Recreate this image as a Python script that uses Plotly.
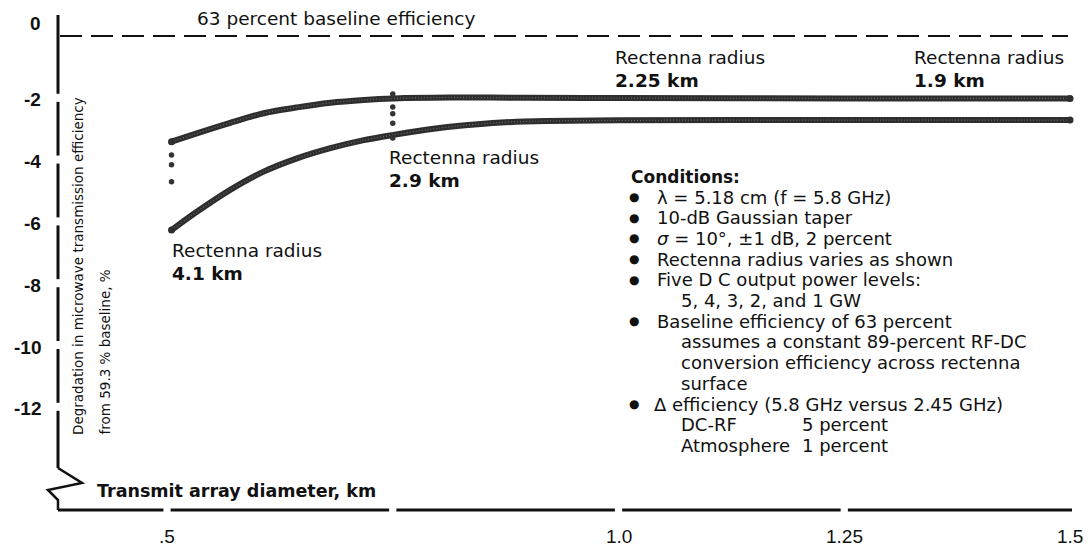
import plotly.graph_objects as go

# ---------------- data ----------------
upper_d = [0.505, 0.533, 0.570, 0.607, 0.644, 0.681, 0.718, 0.751, 0.813, 0.9, 1.0, 1.25, 1.5]
upper_v = [-3.42, -3.15, -2.81, -2.50, -2.31, -2.16, -2.07, -2.02, -1.99, -2.0, -2.01, -2.02, -2.02]

lower_d = [0.505, 0.533, 0.570, 0.607, 0.644, 0.681, 0.718, 0.751, 0.791, 0.83, 0.87, 0.92, 1.0, 1.25, 1.5]
lower_v = [-6.28, -5.69, -4.98, -4.39, -3.96, -3.63, -3.37, -3.20, -3.02, -2.89, -2.80, -2.75, -2.73, -2.72, -2.72]

dots_a_d = [0.505, 0.505, 0.505]
dots_a_v = [-3.85, -4.17, -4.72]
dots_b_d = [0.75, 0.75, 0.75, 0.75, 0.75]
dots_b_v = [-1.88, -2.30, -2.52, -2.82, -3.30]

baseline_v = 0.0
xtick_vals = [0.5, 1.0, 1.25, 1.5]
xtick_text = [".5", "1.0", "1.25", "1.5"]
ytick_vals = [0, -2, -4, -6, -8, -10, -12]
ytick_text = ["0", "-2", "-4", "-6", "-8", "-10", "-12"]

conditions = [
    ("bullet", "\u03bb = 5.18 cm (f = 5.8 GHz)"),
    ("bullet", "10-dB Gaussian taper"),
    ("bullet", "<i>\u03c3</i> = 10\u00b0, \u00b11 dB, 2 percent"),
    ("bullet", "Rectenna radius varies as shown"),
    ("bullet", "Five D C output power levels:"),
    ("indent", "5, 4, 3, 2, and 1 GW"),
    ("bullet", "Baseline efficiency of 63 percent"),
    ("indent", "assumes a constant 89-percent RF-DC"),
    ("indent", "conversion efficiency across rectenna"),
    ("indent", "surface"),
    ("bullet", "\u0394 efficiency (5.8 GHz versus 2.45 GHz)"),
    ("indent", "DC-RF"),
    ("indent", "Atmosphere"),
]
delta_values = ["5 percent", "1 percent"]

# ---------------- layout helpers (pixel -> axis units) ----------------
W, H = 1091, 549
X0_PX, X_PER_KM = 167.0, 903.0     # .5 km at 167 px
Y0_PX, Y_PER_UNIT = 36.0, 30.9     # 0 % at 36 px


def px2x(px):
    return 0.5 + (px - X0_PX) / X_PER_KM


def py2y(py):
    return -(py - Y0_PX) / Y_PER_UNIT


FONT = "DejaVu Sans, Verdana, sans-serif"
TICKFONT = "Liberation Sans, Arial, sans-serif"
INK = "#111111"
TXT = 18.5
CTXT = 18

fig = go.Figure()

band_col = "#2e2e2e"
for d, v in ((upper_d, upper_v), (lower_d, lower_v)):
    fig.add_trace(go.Scatter(x=d, y=v, mode="lines",
                             line=dict(color=band_col, width=6, shape="spline", smoothing=0.8),
                             hoverinfo="skip", showlegend=False))
    fig.add_trace(go.Scatter(x=d, y=v, mode="lines",
                             line=dict(color="#6a6a6a", width=1.2, shape="spline", smoothing=0.8, dash="1px,2px"),
                             hoverinfo="skip", showlegend=False))
    fig.add_trace(go.Scatter(x=[d[0], d[-1]], y=[v[0], v[-1]], mode="markers",
                             marker=dict(color=band_col, size=7),
                             hoverinfo="skip", showlegend=False))

for d, v in ((dots_a_d, dots_a_v), (dots_b_d, dots_b_v)):
    fig.add_trace(go.Scatter(x=d, y=v, mode="markers",
                             marker=dict(color="#333333", size=5.5),
                             hoverinfo="skip", showlegend=False))

shapes = []
# baseline dashed line
shapes.append(dict(type="line", x0=px2x(60), x1=px2x(1068), y0=baseline_v, y1=baseline_v,
                   line=dict(color=INK, width=2, dash="22px,9px")))

# broken y axis line with gaps at labelled ticks
ax_x = px2x(58)
gap = 0.13
top = py2y(15)
bottom_v = py2y(468)
stops = [t for t in ytick_vals if t < 0]
seg_top = top
for t in stops:
    shapes.append(dict(type="line", x0=ax_x, x1=ax_x, y0=seg_top, y1=t + gap,
                       line=dict(color=INK, width=3)))
    seg_top = t - gap
shapes.append(dict(type="line", x0=ax_x, x1=ax_x, y0=seg_top, y1=bottom_v,
                   line=dict(color=INK, width=3)))

# zig-zag axis break
zz = [(58, 468), (82, 483), (48, 490), (58, 500), (58, 510)]
path = "M " + " L ".join(f"{px2x(a)},{py2y(b)}" for a, b in zz)
shapes.append(dict(type="path", path=path, line=dict(color=INK, width=2.5)))

# broken x axis line with gaps at ticks
xa_y = py2y(510)
xgaps = [0.5, 0.75, 1.0, 1.25]
xg = 0.004
seg_left = px2x(58)
for g in xgaps:
    shapes.append(dict(type="line", x0=seg_left, x1=g - xg, y0=xa_y, y1=xa_y,
                       line=dict(color=INK, width=3)))
    seg_left = g + xg
shapes.append(dict(type="line", x0=seg_left, x1=px2x(1072), y0=xa_y, y1=xa_y,
                   line=dict(color=INK, width=3)))

ann = []


def text(px, py, s, size=17, bold=False, xanchor="left", yanchor="middle", angle=0, family=FONT):
    if bold:
        s = f"<b>{s}</b>"
    ann.append(dict(x=px2x(px), y=py2y(py), text=s, showarrow=False, xanchor=xanchor,
                    yanchor=yanchor, textangle=angle,
                    font=dict(family=family, size=size, color=INK)))


# y tick labels
for v, t in zip(ytick_vals, ytick_text):
    ann.append(dict(x=px2x(43), y=v, text=f"<b>{t}</b>", showarrow=False, xanchor="right",
                    yanchor="middle", yshift=13 if v == 0 else -2,
                    font=dict(family=TICKFONT, size=19, color=INK)))
# x tick labels
for v, t in zip(xtick_vals, xtick_text):
    ann.append(dict(x=v, y=py2y(536), text=t, showarrow=False, xanchor="center",
                    yanchor="middle", font=dict(family=TICKFONT, size=19, color=INK)))

text(195, 18, "63 percent baseline efficiency", size=TXT)
text(95, 491, "Transmit array diameter, km", size=17.5, bold=True)

text(613, 57, "Rectenna radius", size=TXT)
text(613, 80, "2.25 km", size=TXT, bold=True)
text(912, 57, "Rectenna radius", size=TXT)
text(912, 80, "1.9 km", size=TXT, bold=True)
text(387, 157, "Rectenna radius", size=TXT)
text(387, 180, "2.9 km", size=TXT, bold=True)
text(170, 250, "Rectenna radius", size=TXT)
text(170, 273, "4.1 km", size=TXT, bold=True)

# axis title (rotated, two lines, bottom aligned)
text(78, 437, "Degradation in microwave transmission efficiency", size=13.5,
     xanchor="center", yanchor="bottom", angle=-90)
text(104, 437, "from 59.3 % baseline, %", size=13.5, xanchor="center", yanchor="bottom", angle=-90)

# conditions block
text(629, 177, "Conditions:", size=17, bold=True)
y = 197
step = 20.7
vi = 0
for kind, s in conditions:
    if kind == "bullet":
        text(634, y, "\u25cf", size=12, xanchor="center")
        text(655 if not s.startswith("\u0394") else 652, y, s, size=CTXT)
    else:
        text(679, y, s, size=CTXT)
        if s in ("DC-RF", "Atmosphere"):
            text(800, y, delta_values[vi], size=CTXT)
            vi += 1
    y += step

fig.update_layout(
    width=W, height=H,
    margin=dict(l=0, r=0, t=0, b=0),
    paper_bgcolor="white", plot_bgcolor="white",
    xaxis=dict(range=[px2x(0), px2x(W)], visible=False, fixedrange=True),
    yaxis=dict(range=[py2y(H), py2y(0)], visible=False, fixedrange=True),
    shapes=shapes, annotations=ann, showlegend=False,
)

fig.write_html(
    "out.html",
    config={"displayModeBar": False},
    post_script="document.body.style.margin='0';document.body.style.padding='0';"
                "document.body.style.overflow='hidden';",
)
